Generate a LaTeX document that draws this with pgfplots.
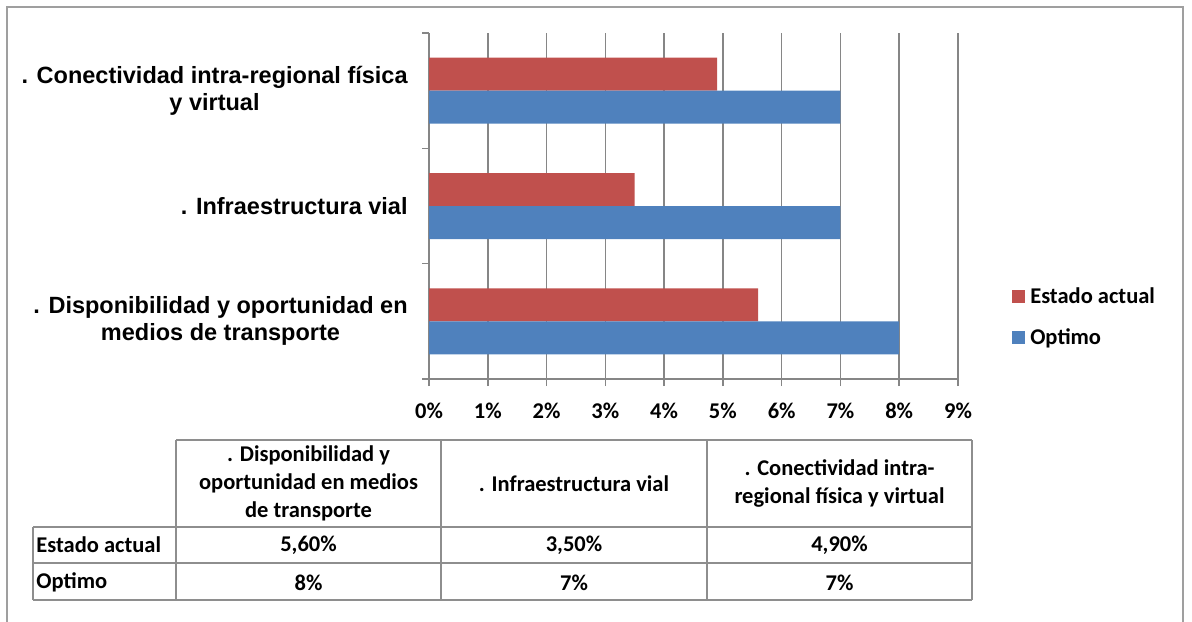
\documentclass[border=0pt]{standalone}
\usepackage{fontspec}
\setmainfont{Carlito}
\newfontfamily\arialfont{Liberation Sans}
\usepackage{pgfplots}
\pgfplotsset{compat=1.18}
\definecolor{redbar}{HTML}{C0504D}
\definecolor{bluebar}{HTML}{4F81BD}
\definecolor{gridgray}{HTML}{868686}
\definecolor{tablegray}{HTML}{8E8E8E}
\newcommand{\catfont}{\arialfont\bfseries\fontsize{11.75pt}{13.5pt}\selectfont}
\newcommand{\calfont}{\bfseries\fontsize{11.25pt}{14pt}\selectfont}
\begin{document}
\begin{tikzpicture}
\path[use as bounding box] (0,0) rectangle (596pt,-310.5pt);
\begin{scope}[x=0.5pt,y=-0.5pt]
  % outer frame
  \draw[color=gray!75, line width=1pt] (7,640)--(7,7)--(1183,7)--(1183,640);
  % data table
  \begin{scope}[tablegray, line width=0.75pt]
    \draw (176,440)--(972,440);
    \draw (33,527)--(972,527);
    \draw (33,563)--(972,563);
    \draw (33,600)--(972,600);
    \draw (33,527)--(33,600);
    \draw (176,440)--(176,600);
    \draw (441,440)--(441,600);
    \draw (707,440)--(707,600);
    \draw (972,440)--(972,600);
  \end{scope}
  \begin{scope}[every node/.style={font=\calfont, inner sep=0pt, align=center, text=black}]
    \node at (308.5,483.5) {. Disponibilidad y\\oportunidad en medios\\de transporte};
    \node at (574,483.5) {. Infraestructura vial};
    \node at (839.5,483.5) {. Conectividad intra-\\regional física y virtual};
    \node[anchor=west] at (36,545) {Estado actual};
    \node[anchor=west] at (36,582.5) {Optimo};
    \node at (308.5,545) {5,60\%};
    \node at (574,545) {3,50\%};
    \node at (839.5,545) {4,90\%};
    \node at (308.5,582.5) {8\%};
    \node at (574,582.5) {7\%};
    \node at (839.5,582.5) {7\%};
  \end{scope}
\end{scope}
\begin{axis}[
  at={(214.5pt,-189.5pt)}, anchor=south west,
  width=264.5pt, height=173pt, scale only axis,
  xmin=0, xmax=9, ymin=-0.5, ymax=2.5,
  xbar, bar width=16.5pt,
  axis lines*=left,
  axis line style={gridgray, line width=0.75pt},
  xtick={0,1,2,3,4,5,6,7,8,9},
  xticklabels={0\%,1\%,2\%,3\%,4\%,5\%,6\%,7\%,8\%,9\%},
  xticklabel style={font=\calfont, yshift=-5pt},
  ytick={0,1,2},
  yticklabels={{. Disponibilidad y oportunidad en\\medios de transporte},{. Infraestructura vial},{. Conectividad intra-regional física\\y virtual}},
  yticklabel style={font=\catfont, align=center, inner sep=0pt, xshift=-7pt},
  minor ytick={-0.5,0.5,1.5,2.5},
  tick align=outside,
  major tick length=3.5pt, minor tick length=3.5pt,
  every major y tick/.append style={draw=none},
  every minor y tick/.append style={gridgray, line width=0.75pt},
  every major x tick/.append style={gridgray, line width=0.75pt},
  xmajorgrids,
  major grid style={gridgray, line width=0.75pt},
  legend style={at={(1.0905,0.1785)}, anchor=west, draw=none, fill=none,
    font=\calfont, row sep=11pt, column sep=2.5pt,
    nodes={inner sep=0pt, anchor=west}},
  legend cell align=left,
  legend image code/.code={\fill[#1] (0pt,-3.25pt) rectangle (6.5pt,3.25pt);},
]
\addplot[fill=redbar, draw=none, bar shift=8.25pt] coordinates {(5.6,0) (3.5,1) (4.9,2)};
\addplot[fill=bluebar, draw=none, bar shift=-8.25pt] coordinates {(8,0) (7,1) (7,2)};
\legend{Estado actual, Optimo}
\end{axis}
\end{tikzpicture}
\end{document}
